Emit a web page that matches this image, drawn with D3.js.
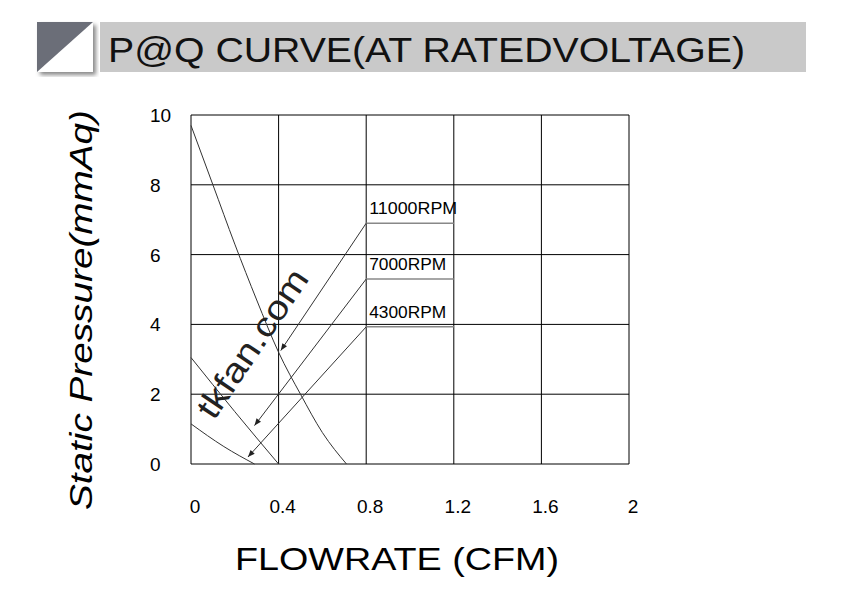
<!DOCTYPE html>
<html><head><meta charset="utf-8">
<script src="https://cdn.jsdelivr.net/npm/d3@7"></script>
<style>body{margin:0;background:#fff}text{font-family:Arial,"Liberation Sans",sans-serif}</style>
</head><body><svg id="c" width="851" height="606"></svg>
<script>
var xTicks=[0,0.4,0.8,1.2,1.6,2];
var yTicks=[0,2,4,6,8,10];
var curve11000=[[0,9.7],[0.1,8.0],[0.2,6.3],[0.3,4.7],[0.4,3.2],[0.5,2.0],[0.6,0.9],[0.71,0]];
var curve7000=[[0,3.05],[0.2,1.5],[0.4,0]];
var curve4300=[[0,1.15],[0.15,0.5],[0.29,0]];
var labels=[{t:"11000RPM",y:6.9,tip:[0.41,3.25]},{t:"7000RPM",y:5.3,tip:[0.29,1.1]},{t:"4300RPM",y:3.93,tip:[0.26,0.2]}];

var svg=d3.select("#c");
var x=d3.scaleLinear().domain([0,2]).range([191,629]);
var y=d3.scaleLinear().domain([0,10]).range([464,115]);

var defs=svg.append("defs");
var f=defs.append("filter").attr("id","sh");
f.append("feDropShadow").attr("dx",3).attr("dy",3).attr("stdDeviation",2).attr("flood-color","#888");
defs.append("marker").attr("id","arr").attr("viewBox","0 0 10 10").attr("refX",10).attr("refY",5)
 .attr("markerWidth",10).attr("markerHeight",7).attr("orient","auto").attr("markerUnits","userSpaceOnUse")
 .append("path").attr("d","M0,1L10,5L0,9Z").attr("fill","#222");
svg.append("rect").attr("x",37).attr("y",22).attr("width",56).attr("height",50).attr("fill","#fff").attr("filter","url(#sh)");
svg.append("path").attr("d","M37,22L93,22L37,72Z").attr("fill","#6b6e78");
svg.append("rect").attr("x",100).attr("y",22).attr("width",706).attr("height",50).attr("fill","#c9c9c9");
svg.append("text").attr("x",108).attr("y",62).attr("font-size",35).attr("fill","#111")
 .attr("textLength",637).attr("lengthAdjust","spacingAndGlyphs").text("P@Q CURVE(AT RATEDVOLTAGE)");

var g=svg.append("g");
g.selectAll(".vx").data(xTicks).join("line").attr("x1",d=>x(d)).attr("x2",d=>x(d)).attr("y1",y(0)).attr("y2",y(10)).attr("stroke","#000").attr("stroke-width",1);
g.selectAll(".hy").data(yTicks).join("line").attr("y1",d=>y(d)).attr("y2",d=>y(d)).attr("x1",x(0)).attr("x2",x(2)).attr("stroke","#000").attr("stroke-width",1);
g.selectAll(".xl").data(xTicks).join("text").attr("x",d=>x(d)+4).attr("y",513).attr("text-anchor","middle").attr("font-size",19).text(d=>d);
g.selectAll(".yl").data(yTicks).join("text").attr("x",150).attr("y",d=>y(d)+7).attr("font-size",19).text(d=>d);

var line=d3.line().x(d=>x(d[0])).y(d=>y(d[1])).curve(d3.curveMonotoneX);
[curve11000,curve7000,curve4300].forEach(function(c){
  svg.append("path").attr("d",line(c)).attr("fill","none").attr("stroke","#333").attr("stroke-width",1);
});
labels.forEach(function(l){
  svg.append("line").attr("x1",x(0.8)).attr("x2",x(1.2)).attr("y1",y(l.y)).attr("y2",y(l.y)).attr("stroke","#888").attr("stroke-width",1.5);
  svg.append("text").attr("x",x(0.8)+3).attr("y",y(l.y)-9).attr("font-size",17)
   .attr("textLength",l.t.length*11).attr("lengthAdjust","spacingAndGlyphs").text(l.t);
  svg.append("line").attr("x1",x(0.8)).attr("y1",y(l.y)).attr("x2",x(l.tip[0])).attr("y2",y(l.tip[1])).attr("stroke","#333").attr("stroke-width",1).attr("marker-end","url(#arr)");
});
svg.append("text").attr("transform","translate(262,350) rotate(-56)").attr("text-anchor","middle").attr("font-size",34).attr("fill","#222")
 .attr("textLength",172).attr("lengthAdjust","spacingAndGlyphs").text("tkfan.com");

svg.append("text").attr("transform","translate(92,310) rotate(-90)").attr("text-anchor","middle").attr("font-size",32).attr("font-style","italic")
 .attr("textLength",400).attr("lengthAdjust","spacingAndGlyphs").text("Static  Pressure(mmAq)");
svg.append("text").attr("x",397).attr("y",570).attr("text-anchor","middle").attr("font-size",32)
 .attr("textLength",324).attr("lengthAdjust","spacingAndGlyphs").text("FLOWRATE (CFM)");
</script></body></html>
